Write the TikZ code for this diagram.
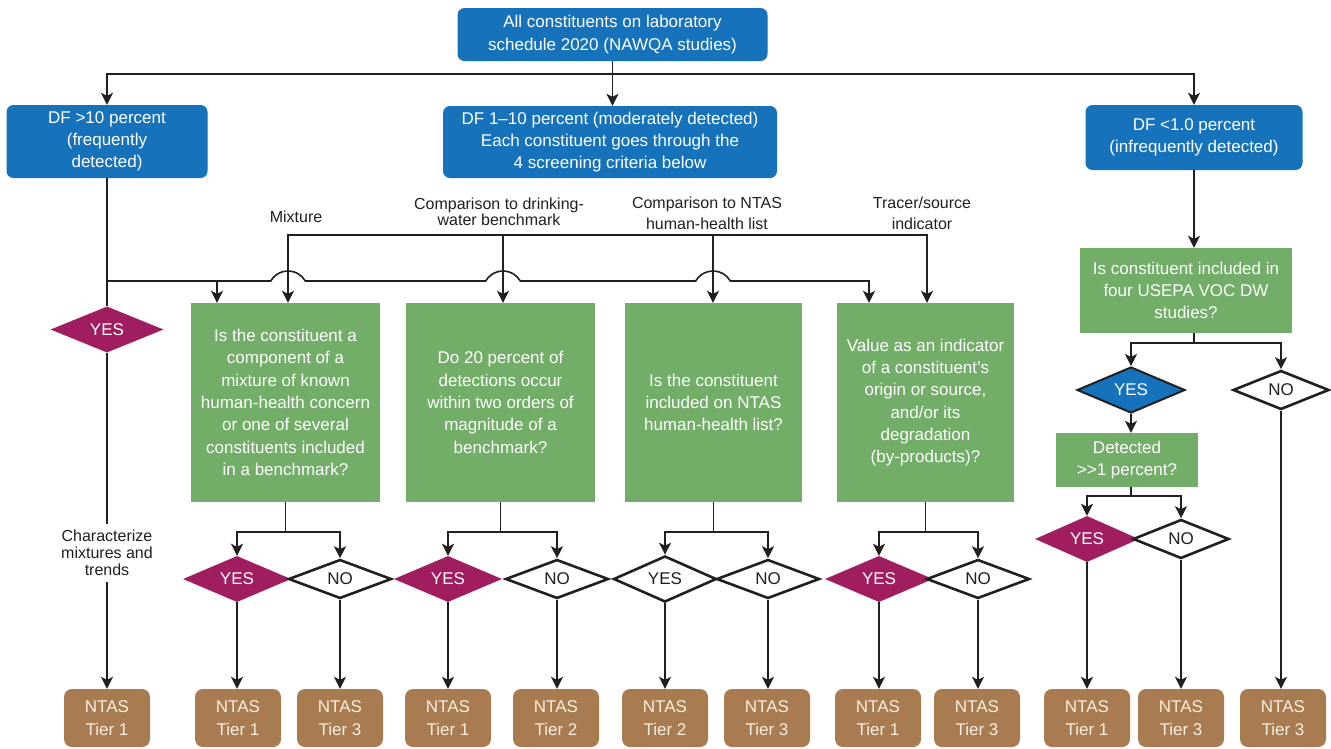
\documentclass[tikz,border=0pt]{standalone}
\usepackage{fontspec}
\setmainfont{Liberation Sans}
\usetikzlibrary{shapes.geometric,arrows.meta,calc}

\definecolor{cblue}{RGB}{22,115,187}
\definecolor{cgreen}{RGB}{114,174,104}
\definecolor{cmag}{RGB}{160,30,96}
\definecolor{cbrown}{RGB}{168,123,80}
\definecolor{ccream}{RGB}{250,240,226}
\definecolor{cink}{RGB}{35,31,32}

\begin{document}
\begin{tikzpicture}[x=1pt,y=1pt,yscale=-1,
  every node/.style={font=\fontsize{17}{22.3}\selectfont, inner sep=0pt},
  bluebox/.style={fill=cblue, text=white, rounded corners=7pt, align=center},
  greenbox/.style={fill=cgreen, text=white, align=center},
  tierbox/.style={fill=cbrown, text=ccream, rounded corners=8pt, align=center,
                  minimum width=86pt, minimum height=58pt},
  yesdia/.style={diamond, fill=cmag, text=white, minimum width=108pt, minimum height=44pt},
  nodia/.style={diamond, draw=cink, line width=2.6pt, fill=white, text=cink,
                minimum width=103pt, minimum height=39pt},
  cuetext/.style={text=cink, align=center, font=\fontsize{16}{21}\selectfont},
  wire/.style={draw=cink, line width=1.6pt},
  arr/.style={wire, -{Stealth[length=12pt,width=12pt,inset=3pt]}},
]
% page
\fill[white] (0,0) rectangle (1331,748);
\useasboundingbox (0,0) rectangle (1331,748);

% ---- top level boxes
\node[bluebox, minimum width=310pt, minimum height=53pt] (top) at (612.5,34.5)
  {All constituents on laboratory\\schedule 2020 (NAWQA studies)};
\node[bluebox, minimum width=201pt, minimum height=73pt] (dfhigh) at (107,141.5)
  {DF >10 percent\\(frequently\\detected)};
\node[bluebox, minimum width=334pt, minimum height=72pt] (dfmid) at (610,142)
  {DF 1–10 percent (moderately detected)\\Each constituent goes through the\\4 screening criteria below};
\node[bluebox, minimum width=217pt, minimum height=65pt] (dflow) at (1194,137.5)
  {DF <1.0 percent\\(infrequently detected)};

% ---- screening criteria labels
\node[cuetext] (lmix) at (296,217) {Mixture};
\node[cuetext, font=\fontsize{16}{16}\selectfont] (ldw) at (499,212) {Comparison to drinking-\\water benchmark};
\node[cuetext] (lnt) at (707,213) {Comparison to NTAS\\human-health list};
\node[cuetext] (ltr) at (922,213) {Tracer/source\\indicator};

% ---- question boxes
\node[greenbox, minimum width=189pt, minimum height=199pt] (q1) at (285.5,402.5)
  {Is the constituent a\\component of a\\mixture of known\\human-health concern\\or one of several\\constituents included\\in a benchmark?};
\node[greenbox, minimum width=189pt, minimum height=199pt] (q2) at (500.5,402.5)
  {Do 20 percent of\\detections occur\\within two orders of\\magnitude of a\\benchmark?};
\node[greenbox, minimum width=177pt, minimum height=199pt] (q3) at (713.5,402.5)
  {Is the constituent\\included on NTAS\\human-health list?};
\node[greenbox, minimum width=177pt, minimum height=199pt] (q4) at (925.5,402.5)
  {Value as an indicator\\of a constituent’s\\origin or source,\\and/or its\\degradation\\(by-products)?};
\node[greenbox, minimum width=212pt, minimum height=85pt] (vocq) at (1186,290.5)
  {Is constituent included in\\four USEPA VOC DW\\studies?};
\node[greenbox, minimum width=142pt, minimum height=54pt] (det) at (1127,460)
  {Detected\\>\kern0pt>1 percent?};

% ---- decisions
\node[yesdia, minimum width=113pt, minimum height=45pt] (yL) at (107,329.5) {YES};
\node[cuetext, font=\fontsize{16}{17}\selectfont, inner sep=6pt] (charz) at (107,553)
  {Characterize\\mixtures and\\trends};

\node[yesdia] (y1) at (237,579) {YES};
\node[nodia]  (n1) at (340,579) {NO};
\node[yesdia] (y2) at (448,579) {YES};
\node[nodia]  (n2) at (557,579) {NO};
\node[nodia]  (y3) at (665,579) {YES};
\node[nodia]  (n3) at (768,579) {NO};
\node[yesdia] (y4) at (879,579) {YES};
\node[nodia]  (n4) at (978,579) {NO};

\node[nodia, fill=cblue, text=white, line width=2pt, minimum width=108pt, minimum height=40pt] (yB) at (1131,390) {YES};
\node[nodia, minimum width=96pt] (nB) at (1281,390) {NO};
\node[yesdia, minimum width=104pt, minimum height=42pt] (yD) at (1087,539) {YES};
\node[nodia, minimum width=96pt] (nD) at (1181,539) {NO};

% ---- tiers
\node[tierbox] (t1)  at (107,718)  {NTAS\\Tier 1};
\node[tierbox] (t2)  at (238,718)  {NTAS\\Tier 1};
\node[tierbox] (t3)  at (340,718)  {NTAS\\Tier 3};
\node[tierbox] (t4)  at (448,718)  {NTAS\\Tier 1};
\node[tierbox] (t5)  at (556,718)  {NTAS\\Tier 2};
\node[tierbox] (t6)  at (665,718)  {NTAS\\Tier 2};
\node[tierbox] (t7)  at (767,718)  {NTAS\\Tier 3};
\node[tierbox] (t8)  at (878,718)  {NTAS\\Tier 1};
\node[tierbox] (t9)  at (977,718)  {NTAS\\Tier 3};
\node[tierbox] (t10) at (1087,718) {NTAS\\Tier 1};
\node[tierbox] (t11) at (1181,718) {NTAS\\Tier 3};
\node[tierbox] (t12) at (1283,718) {NTAS\\Tier 3};

% ---- top split
\coordinate (split) at (612.5,74);
\draw[arr] (top.south) -- (top.south |- dfmid.north);
\draw[arr] (split) -| (dfhigh.north);
\draw[arr] (split) -| (dflow.north);

% ---- frequently detected branch
\draw[wire] (dfhigh.south) -- (yL.north);
\draw[wire] (yL.south) -- (charz.north);
\draw[arr] (charz.south) -- (t1.north);

% ---- criteria bus
\coordinate (cMix) at (288,235);
\coordinate (cDW)  at (503,235);
\coordinate (cNT)  at (713,235);
\coordinate (cTr)  at (927,235);
\draw[arr] (cTr) -| (cMix |- q1.north);
\draw[arr] (cMix) -| (cTr |- q4.north);
\draw[arr] (cDW) -- (cDW |- q2.north);
\draw[arr] (cNT) -- (cNT |- q3.north);

% ---- bus from the frequently detected line, hopping over the criteria drops
\coordinate (jL) at (107,281);
\coordinate (jA) at (217,281);
\coordinate (jE) at (869,281);
\draw[arr] (jA) -- (jA |- q1.north);
\draw[arr] (jL) -- ($(cMix |- jL)+(-17.3,0)$) arc[start angle=210,end angle=330,radius=20pt]
  -- ($(cDW |- jL)+(-17.3,0)$) arc[start angle=210,end angle=330,radius=20pt]
  -- ($(cNT |- jL)+(-17.3,0)$) arc[start angle=210,end angle=330,radius=20pt]
  -| (jE |- q4.north);

% ---- question splits
\foreach \q/\a/\b in {q1/y1/n1, q2/y2/n2, q3/y3/n3, q4/y4/n4}{
  \draw[arr] (\q.south) -- ++(0,29.5) -| (\a.north);
  \draw[arr] (\q.south) -- ++(0,29.5) -| (\b.north);
}
\foreach \d/\t in {y1/t2, n1/t3, y2/t4, n2/t5, y3/t6, n3/t7, y4/t8, n4/t9, yD/t10, nD/t11, nB/t12}{
  \draw[arr] (\d.south) -- (\d.south |- \t.north);
}

% ---- infrequently detected branch
\draw[arr] (dflow.south) -- (dflow.south |- vocq.north);
\draw[arr] (dflow.south |- vocq.south) -- ++(0,10) -| (yB.north);
\draw[arr] (dflow.south |- vocq.south) -- ++(0,10) -| (nB.north);
\draw[arr] (yB.south) -- (yB.south |- det.north);
\draw[arr] (yB.south |- det.south) -- ++(0,9) -| (yD.north);
\draw[arr] (yB.south |- det.south) -- ++(0,9) -| (nD.north);
\end{tikzpicture}
\end{document}
